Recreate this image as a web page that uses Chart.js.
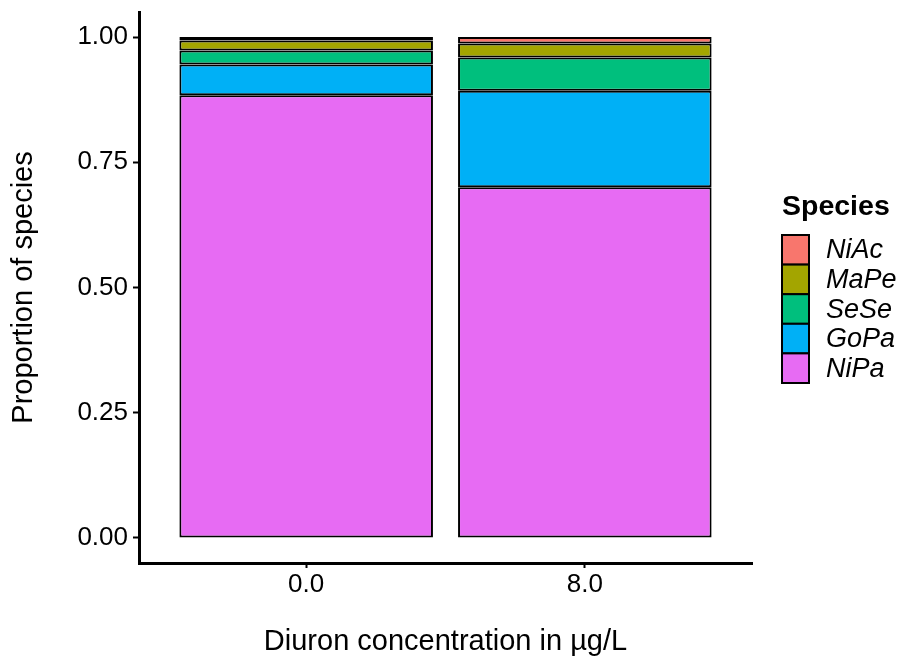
<!DOCTYPE html>
<html>
<head>
<meta charset="utf-8">
<script src="https://cdn.jsdelivr.net/npm/chart.js@4.4.1/dist/chart.umd.min.js"></script>
<style>
  html, body { margin: 0; padding: 0; background: #ffffff; }
  #wrap { width: 901px; height: 659px; }
</style>
</head>
<body>
<div id="wrap"><canvas id="c" width="901" height="659"></canvas></div>
<script>
// Diuron concentrations (x categories)
const categories = ['0.0', '8.0'];
// Stack order, bottom to top
const species = ['NiPa', 'GoPa', 'SeSe', 'MaPe', 'NiAc'];
// Proportions per species at each concentration
const NiPa = [0.884, 0.700];
const GoPa = [0.061, 0.193];
const SeSe = [0.028, 0.066];
const MaPe = [0.020, 0.028];
const NiAc = [0.007, 0.013];
// y-axis tick values
const yTicks = [0, 0.25, 0.5, 0.75, 1];

const seriesValues = { NiPa, GoPa, SeSe, MaPe, NiAc };
const seriesColors = {
  NiPa: '#E76BF3',
  GoPa: '#00B0F6',
  SeSe: '#00BF7D',
  MaPe: '#A3A500',
  NiAc: '#F8766D'
};

const FONT = '"Liberation Sans", Arial, Helvetica, sans-serif';

const datasets = species.map(name => ({
  label: name,
  data: seriesValues[name].map((v, i) => ({ x: i + 1, y: v })),
  backgroundColor: seriesColors[name],
  borderColor: '#000000',
  borderWidth: 2,
  borderSkipped: false,
  barPercentage: 0.91,
  categoryPercentage: 1.0
}));

// Legend on the right: title plus one key per species, top of stack first
const speciesLegend = {
  id: 'speciesLegend',
  afterDraw(chart) {
    const ctx = chart.ctx;
    const x0 = 782;
    const keyW = 27;
    const keyH = 29.6;
    const top = 235;
    ctx.save();
    ctx.fillStyle = '#000000';
    ctx.font = 'bold 28.5px ' + FONT;
    ctx.textAlign = 'left';
    ctx.textBaseline = 'middle';
    ctx.fillText('Species', x0, 207);
    const items = chart.data.datasets.slice().reverse();
    items.forEach((ds, i) => {
      const y = top + i * keyH;
      ctx.fillStyle = ds.backgroundColor;
      ctx.fillRect(x0, y, keyW, keyH);
      ctx.lineWidth = 2;
      ctx.strokeStyle = '#000000';
      ctx.strokeRect(x0, y, keyW, keyH);
      ctx.fillStyle = '#000000';
      ctx.font = 'italic 27px ' + FONT;
      ctx.fillText(ds.label, x0 + 44, y + keyH / 2 + 1);
    });
    ctx.restore();
  }
};

// Keep the plot panel exactly where the layout padding puts it
const noLabelPadding = s => {
  s.paddingTop = 0;
  s.paddingBottom = 0;
  s.paddingLeft = 0;
  s.paddingRight = 0;
};

new Chart(document.getElementById('c'), {
  type: 'bar',
  data: { datasets },
  plugins: [speciesLegend],
  options: {
    responsive: false,
    animation: false,
    layout: { padding: { left: 0, right: 149, top: 12, bottom: 0 } },
    plugins: {
      legend: { display: false },
      tooltip: { enabled: false }
    },
    scales: {
      x: {
        type: 'linear',
        stacked: true,
        offset: false,
        min: 0.4,
        max: 2.6,
        afterBuildTicks: s => { s.ticks = categories.map((c, i) => ({ value: i + 1 })); },
        afterFit: s => { s.height = 96; noLabelPadding(s); },
        ticks: {
          callback: v => categories[v - 1],
          font: { family: FONT, size: 26 },
          color: '#000000',
          padding: 1,
          maxRotation: 0,
          autoSkip: false
        },
        grid: {
          display: true, offset: false, drawOnChartArea: false, drawTicks: true,
          tickLength: 5, tickWidth: 2, tickColor: '#000000'
        },
        border: { display: true, color: '#000000', width: 3 },
        title: {
          display: true,
          text: 'Diuron concentration in µg/L',
          font: { family: FONT, size: 29 },
          color: '#000000',
          padding: { top: 0, bottom: 0 }
        }
      },
      y: {
        type: 'linear',
        stacked: true,
        min: -0.05,
        max: 1.05,
        afterBuildTicks: s => { s.ticks = yTicks.map(v => ({ value: v })); },
        afterFit: s => { s.width = 139; noLabelPadding(s); },
        ticks: {
          callback: v => Number(v).toFixed(2),
          font: { family: FONT, size: 26 },
          color: '#000000',
          padding: 5
        },
        grid: {
          display: true, drawOnChartArea: false, drawTicks: true,
          tickLength: 6, tickWidth: 2, tickColor: '#000000'
        },
        border: { display: true, color: '#000000', width: 3 },
        title: {
          display: true,
          text: 'Proportion of species',
          font: { family: FONT, size: 29 },
          color: '#000000',
          padding: { top: 7, bottom: 0 }
        }
      }
    }
  }
});
</script>
</body>
</html>
